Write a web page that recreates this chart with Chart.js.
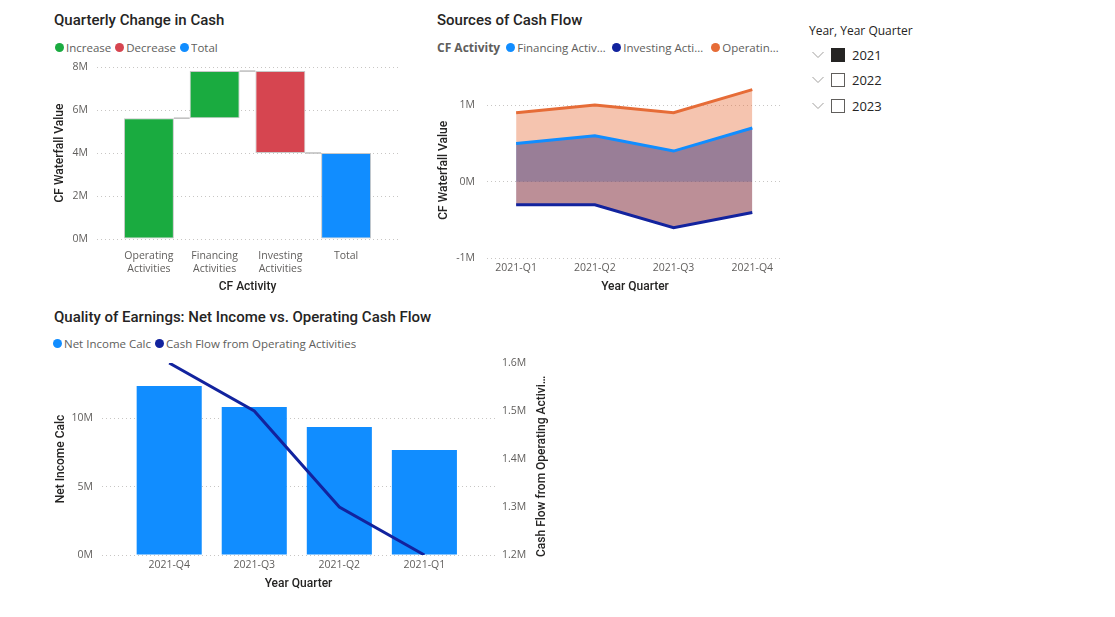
<!DOCTYPE html>
<html>
<head>
<meta charset="utf-8">
<title>Cash Flow</title>
<script src="https://cdn.jsdelivr.net/npm/chart.js@4.4.1/dist/chart.umd.min.js"></script>
<style>
    body {
        margin: 0;
        width: 1115px;
        height: 617px;
        background: #fff;
        position: relative;
        overflow: hidden;
        font-family: "Segoe UI", "Open Sans", sans-serif;
    }
    canvas { position: absolute; }
    .title {
        position: absolute;
        font-family: Roboto, sans-serif;
        font-weight: 500;
        font-size: 15px;
        line-height: 18px;
        color: #252423;
        white-space: nowrap;
    }
    .legend {
        position: absolute;
        height: 16px;
        display: flex;
        align-items: center;
        font-size: 11.5px;
        color: #605E5C;
        white-space: nowrap;
    }
    .legend .item { display: flex; align-items: center; margin-right: 4px; }
    .legend .dot { width: 9px; height: 9px; border-radius: 50%; margin-right: 2px; flex: none; }
    .legend .name { overflow: hidden; text-overflow: ellipsis; }
    .legend .head { font-size: 12px; font-weight: 700; color: #605E5C; margin-right: 6px; }
    .axis-right {
        position: absolute;
        width: 183px;
        height: 16px;
        line-height: 16px;
        font-family: Roboto, sans-serif;
        font-weight: 500;
        font-size: 12px;
        color: #252423;
        white-space: nowrap;
        overflow: hidden;
        text-overflow: ellipsis;
        transform-origin: 0 0;
        transform: rotate(-90deg);
    }
    .slicer { position: absolute; left: 809px; top: 23px; }
    .slicer .head { font-size: 12px; color: #252423; line-height: 16px; margin-bottom: 3px; }
    .slicer .row { display: flex; align-items: center; height: 25.5px; }
    .slicer svg { margin: 0 7px 0 3px; }
    .slicer .box { width: 12px; height: 12px; border: 1px solid #605E5C; margin-right: 7px; }
    .slicer .box.on { background: #252423; border-color: #252423; }
    .slicer .year { font-size: 13px; color: #252423; }
</style>
</head>
<body>

<div class="title" style="left:54px; top:11px;">Quarterly Change in Cash</div>
<div class="legend" style="left:55px; top:39px;">
    <div class="item"><span class="dot" style="background:#1AAB40"></span><span class="name">Increase</span></div>
    <div class="item"><span class="dot" style="background:#D64550"></span><span class="name">Decrease</span></div>
    <div class="item"><span class="dot" style="background:#118DFF"></span><span class="name">Total</span></div>
</div>
<canvas id="waterfallChart" width="358" height="240" style="left:40px; top:55px;"></canvas>

<div class="title" style="left:437px; top:11px;">Sources of Cash Flow</div>
<div class="legend" style="left:437px; top:39px;">
    <span class="head">CF Activity</span>
    <div class="item"><span class="dot" style="background:#118DFF"></span><span class="name" style="max-width:91px">Financing Activities</span></div>
    <div class="item"><span class="dot" style="background:#12239E"></span><span class="name" style="max-width:84px">Investing Activities</span></div>
    <div class="item"><span class="dot" style="background:#E66C37"></span><span class="name" style="max-width:58px">Operating Activities</span></div>
</div>
<canvas id="sourcesChart" width="353" height="240" style="left:430px; top:55px;"></canvas>

<div class="title" style="left:54px; top:308px;">Quality of Earnings: Net Income vs. Operating Cash Flow</div>
<div class="legend" style="left:53px; top:335px;">
    <div class="item"><span class="dot" style="background:#118DFF"></span><span class="name">Net Income Calc</span></div>
    <div class="item"><span class="dot" style="background:#12239E"></span><span class="name">Cash Flow from Operating Activities</span></div>
</div>
<canvas id="qualityChart" width="520" height="240" style="left:40px; top:355px;"></canvas>
<div class="axis-right" style="left:533px; top:557px;">Cash Flow from Operating Activities</div>

<div class="slicer">
    <div class="head">Year, Year Quarter</div>
    <div id="slicerRows"></div>
</div>

<script>
// Quarterly Change in Cash (waterfall)
const wfCategories = [['Operating', 'Activities'], ['Financing', 'Activities'], ['Investing', 'Activities'], 'Total'];
const wfValues = [5620000, 2190000, -3810000];
const wfTicks = [0, 2000000, 4000000, 6000000, 8000000];

// Sources of Cash Flow (area)
const quarters = ['2021-Q1', '2021-Q2', '2021-Q3', '2021-Q4'];
const financingFlow = [500000, 600000, 400000, 700000];
const investingFlow = [-300000, -300000, -600000, -400000];
const operatingFlow = [900000, 1000000, 900000, 1200000];
const areaTicks = [-1000000, 0, 1000000];

// Quality of Earnings (bar + line)
const qoeQuarters = ['2021-Q4', '2021-Q3', '2021-Q2', '2021-Q1'];
const netIncome = [12360000, 10830000, 9360000, 7680000];
const operatingCash = [1600000, 1500000, 1300000, 1200000];
const netIncomeTicks = [0, 5000000, 10000000];
const cashTicks = [1200000, 1300000, 1400000, 1500000, 1600000];

// Slicer
const years = ['2021', '2022', '2023'];
const selectedYear = '2021';

const GREEN = '#1AAB40', RED = '#D64550', BLUE = '#118DFF', NAVY = '#12239E', ORANGE = '#E66C37';
const GRID = '#C8C6C4';
const tickFont = { family: "'Segoe UI', 'Open Sans', sans-serif", size: 10.5 };
const titleFont = { family: 'Roboto, sans-serif', size: 12, weight: '500' };

Chart.defaults.animation = false;
Chart.defaults.plugins.legend.display = false;
Chart.defaults.plugins.tooltip.enabled = false;
Chart.defaults.color = '#605E5C';

function formatM(v) {
    return Number((v / 1e6).toFixed(1)) + 'M';
}

// fixed axis sizes so the plot areas land where the report has them
function fitY(w) {
    return function (scale) {
        scale.width = w;
        scale.paddingTop = 0;
        scale.paddingBottom = 0;
    };
}

function fitX(h) {
    return function (scale) {
        scale.height = h;
        scale.paddingLeft = 0;
        scale.paddingRight = 0;
    };
}

function useTicks(values) {
    return function (scale) {
        scale.ticks = values.map(v => ({ value: v }));
    };
}

function dottedGrid() {
    return { color: GRID, lineWidth: 1, drawTicks: false };
}

function toPoints(values) {
    return values.map((v, i) => ({ x: i, y: v }));
}

// ---- waterfall ----
const wfStarts = [];
const wfEnds = [];
let running = 0;
wfValues.forEach(v => {
    wfStarts.push(running);
    running += v;
    wfEnds.push(running);
});
wfStarts.push(0);
wfEnds.push(running);
const wfColors = wfValues.map(v => v >= 0 ? GREEN : RED).concat(BLUE);

const connectorPlugin = {
    id: 'connectors',
    afterDatasetsDraw(chart) {
        const bars = chart.getDatasetMeta(0).data;
        const y = chart.scales.y;
        const ctx = chart.ctx;
        ctx.save();
        ctx.strokeStyle = '#BDBDBD';
        ctx.lineWidth = 1.5;
        for (let i = 0; i < bars.length - 1; i++) {
            const py = y.getPixelForValue(wfEnds[i]);
            ctx.beginPath();
            ctx.moveTo(bars[i].x + bars[i].width / 2, py);
            ctx.lineTo(bars[i + 1].x - bars[i + 1].width / 2, py);
            ctx.stroke();
        }
        ctx.restore();
    }
};

new Chart(document.getElementById('waterfallChart'), {
    type: 'bar',
    data: {
        datasets: [{
            data: wfStarts.map((s, i) => ({ x: i, y: [s, wfEnds[i]] })),
            backgroundColor: wfColors,
            borderColor: '#C8C8C8',
            borderWidth: 1,
            borderSkipped: false,
            barPercentage: 0.76,
            categoryPercentage: 1
        }]
    },
    options: {
        responsive: false,
        layout: { padding: { top: 12, right: 0, bottom: 0, left: 0 } },
        scales: {
            x: {
                type: 'linear',
                min: -0.79,
                max: 3.79,
                offset: false,
                afterBuildTicks: useTicks([0, 1, 2, 3]),
                afterFit: fitX(56),
                grid: { display: false, drawTicks: false },
                border: { display: false },
                ticks: { callback: v => wfCategories[v], font: tickFont, padding: 11, maxRotation: 0, autoSkip: false },
                title: { display: true, text: 'CF Activity', font: titleFont, color: '#252423', padding: { top: 0, bottom: 1 } }
            },
            y: {
                min: 0,
                max: 8000000,
                afterBuildTicks: useTicks(wfTicks),
                afterFit: fitY(57),
                grid: dottedGrid(),
                border: { display: false, dash: [1, 3] },
                ticks: { callback: formatM, font: tickFont, padding: 9 },
                title: { display: true, text: 'CF Waterfall Value', font: titleFont, color: '#252423', padding: { top: 13, bottom: 0 } }
            }
        }
    },
    plugins: [connectorPlugin]
});

// ---- sources of cash flow ----
// fills are painted before the lines; later datasets are painted first
new Chart(document.getElementById('sourcesChart'), {
    type: 'line',
    data: {
        datasets: [{
            label: 'Operating Activities',
            data: toPoints(operatingFlow),
            borderColor: ORANGE,
            backgroundColor: 'rgba(230, 108, 55, 0.4)',
            fill: 1
        }, {
            label: 'Investing Activities',
            data: toPoints(investingFlow),
            borderColor: NAVY,
            backgroundColor: 'rgba(18, 35, 158, 0.4)',
            fill: 2
        }, {
            label: 'Financing Activities',
            data: toPoints(financingFlow),
            borderColor: BLUE,
            backgroundColor: 'rgba(17, 141, 255, 0.4)',
            fill: 'origin'
        }]
    },
    options: {
        responsive: false,
        layout: { padding: { top: 27, right: 0, bottom: 0, left: 0 } },
        plugins: { filler: { drawTime: 'beforeDatasetsDraw' } },
        elements: {
            point: { radius: 0 },
            line: { borderWidth: 3, tension: 0 }
        },
        scales: {
            x: {
                type: 'linear',
                min: -0.37,
                max: 3.39,
                afterBuildTicks: useTicks([0, 1, 2, 3]),
                afterFit: fitX(36.5),
                grid: { display: false, drawTicks: false },
                border: { display: false },
                ticks: { callback: v => quarters[v], font: tickFont, padding: 3, maxRotation: 0, autoSkip: false },
                title: { display: true, text: 'Year Quarter', font: titleFont, color: '#252423', padding: { top: 0, bottom: 1 } }
            },
            y: {
                min: -1000000,
                max: 1300000,
                afterBuildTicks: useTicks(areaTicks),
                afterFit: fitY(57),
                grid: dottedGrid(),
                border: { display: false, dash: [1, 3] },
                ticks: { callback: formatM, font: tickFont, padding: 12 },
                title: { display: true, text: 'CF Waterfall Value', font: titleFont, color: '#252423', padding: { top: 7, bottom: 0 } }
            }
        }
    }
});

// ---- quality of earnings ----
new Chart(document.getElementById('qualityChart'), {
    type: 'bar',
    data: {
        datasets: [{
            type: 'line',
            label: 'Cash Flow from Operating Activities',
            data: toPoints(operatingCash),
            yAxisID: 'y1',
            borderColor: NAVY,
            borderWidth: 3,
            pointRadius: 0,
            tension: 0,
            order: 0
        }, {
            type: 'bar',
            label: 'Net Income Calc',
            data: toPoints(netIncome),
            yAxisID: 'y',
            backgroundColor: BLUE,
            barPercentage: 0.765,
            categoryPercentage: 1,
            order: 1
        }]
    },
    options: {
        responsive: false,
        layout: { padding: { top: 8, right: 0, bottom: 0, left: 0 } },
        scales: {
            x: {
                type: 'linear',
                min: -0.79,
                max: 3.83,
                offset: false,
                afterBuildTicks: useTicks([0, 1, 2, 3]),
                afterFit: fitX(40),
                grid: { display: false, drawTicks: false },
                border: { display: false },
                ticks: { callback: v => qoeQuarters[v], font: tickFont, padding: 3.5, maxRotation: 0, autoSkip: false },
                title: { display: true, text: 'Year Quarter', font: titleFont, color: '#252423', padding: { top: 0, bottom: 4 } }
            },
            y: {
                position: 'left',
                min: 0,
                max: 14050000,
                afterBuildTicks: useTicks(netIncomeTicks),
                afterFit: fitY(62),
                grid: dottedGrid(),
                border: { display: false, dash: [1, 3] },
                ticks: { callback: formatM, font: tickFont, padding: 9 },
                title: { display: true, text: 'Net Income Calc', font: titleFont, color: '#252423', padding: { top: 14, bottom: 0 } }
            },
            y1: {
                position: 'right',
                min: 1200000,
                max: 1600000,
                afterBuildTicks: useTicks(cashTicks),
                afterFit: fitY(65),
                grid: { display: false, drawTicks: false },
                border: { display: false },
                ticks: { callback: formatM, font: tickFont, padding: 7 }
            }
        }
    }
});

// ---- slicer ----
const rows = document.getElementById('slicerRows');
years.forEach(y => {
    const row = document.createElement('div');
    row.className = 'row';
    row.innerHTML =
        '<svg width="12" height="8" viewBox="0 0 12 8"><polyline points="0.5,1 6,6.5 11.5,1" fill="none" stroke="#A19F9D" stroke-width="1"/></svg>' +
        '<span class="box' + (y === selectedYear ? ' on' : '') + '"></span>' +
        '<span class="year">' + y + '</span>';
    rows.appendChild(row);
});
</script>
</body>
</html>
